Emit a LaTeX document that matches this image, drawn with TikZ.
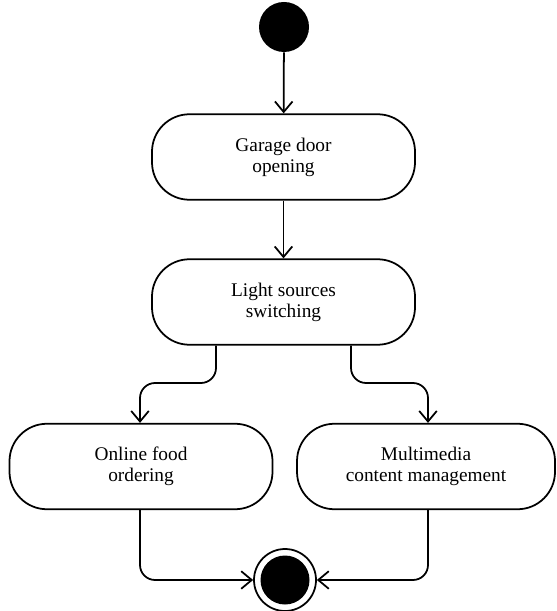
\documentclass[tikz,border=0pt]{standalone}
\usepackage{fontspec}
\setmainfont{Liberation Serif}
\usetikzlibrary{arrows.meta}

\begin{document}
\begin{tikzpicture}[
  act/.style={draw, line width=1pt, rounded corners=0.75cm, minimum height=1.71cm, align=center, font=\fontsize{11}{12}\selectfont},
  flow/.style={line width=1pt, rounded corners=0.3cm, -{Straight Barb[length=6pt,width=10pt,line width=1pt]}}]
\useasboundingbox (0,0) rectangle (11.12,-12.22);
\node[circle, fill=black, minimum size=1cm, inner sep=0](start) at (5.68,-0.54) {};
\node[act, minimum width=5.26cm](garage) at (5.67,-3.14) {Garage door\\opening};
\node[act, minimum width=5.26cm](light) at (5.67,-6.04) {Light sources\\switching};
\node[act, minimum width=5.26cm](food) at (2.82,-9.33) {Online food\\ordering};
\node[act, minimum width=5.16cm](media) at (8.52,-9.33) {Multimedia\\content management};
\node[circle, draw, line width=1pt, minimum size=1.24cm, inner sep=0](stop) at (5.70,-11.6) {};
\node[circle, fill=black, minimum size=0.98cm, inner sep=0] at (stop) {};

\draw[flow](start) -- (garage);
\draw[flow](garage) -- (light);
\draw[flow]([xshift=-1.35cm]light.south) |- (2.8,-7.66) -- (food.north -| 2.8,0);
\draw[flow]([xshift=1.35cm]light.south) |- (8.56,-7.66) -- (media.north -| 8.56,0);
\draw[flow](food.south -| 2.8,0) |- (stop);
\draw[flow](media.south -| 8.56,0) |- (stop);
\end{tikzpicture}
\end{document}
